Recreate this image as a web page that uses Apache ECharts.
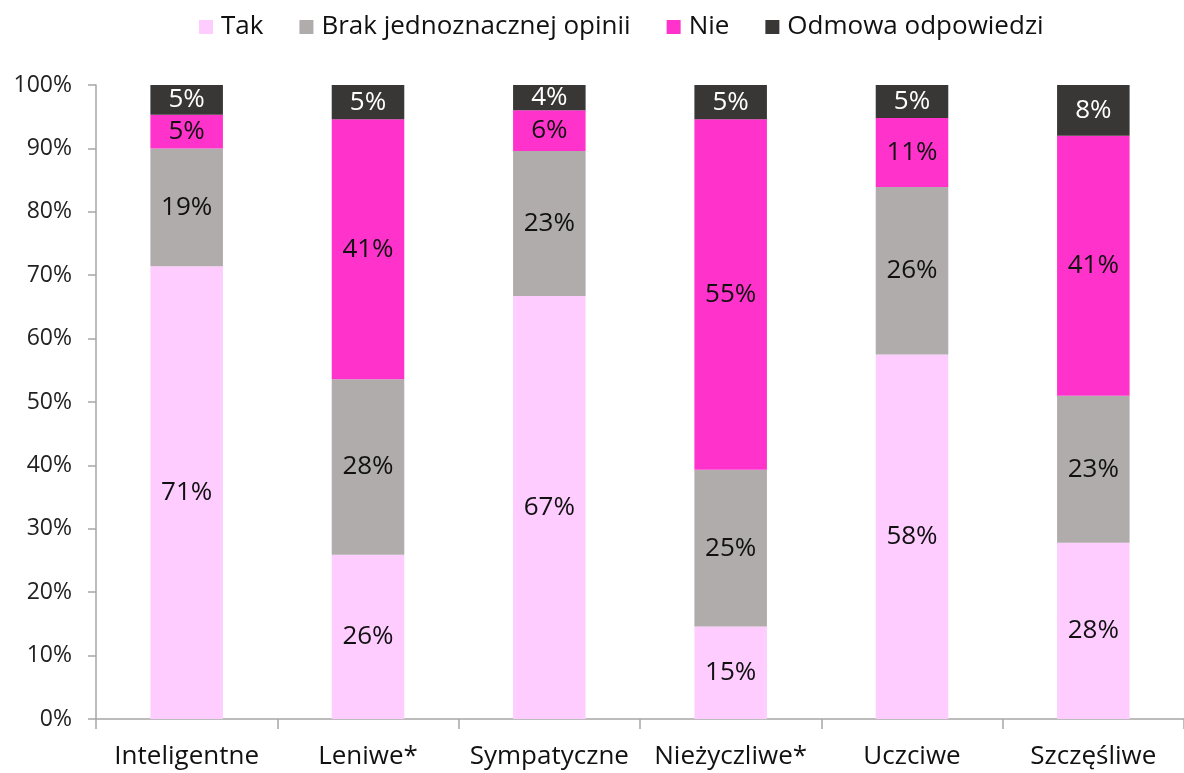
<!DOCTYPE html>
<html>
<head>
<meta charset="utf-8">
<script src="https://cdn.jsdelivr.net/npm/echarts@6/dist/echarts.min.js"></script>
<style>
  html, body { margin: 0; padding: 0; background: #fff; }
  #chart { width: 1184px; height: 773px; }
</style>
</head>
<body>
<div id="chart"></div>
<script>
// kategorie i odpowiedzi (w %)
var categories = ['Inteligentne', 'Leniwe*', 'Sympatyczne', 'Nieżyczliwe*', 'Uczciwe', 'Szczęśliwe'];
var tak     = [71.4, 25.9, 66.7, 14.6, 57.5, 27.8];
var brak    = [18.6, 27.7, 22.9, 24.7, 26.4, 23.2];
var nie     = [5.3, 41.0, 6.4, 55.3, 10.9, 41.0];
var odmowa  = [4.7, 5.4, 4.0, 5.4, 5.2, 8.0];
var yTicks  = [0, 10, 20, 30, 40, 50, 60, 70, 80, 90, 100];

var font = '"Open Sans", sans-serif';

function makeSeries(name, data, color, labelColor) {
  return {
    name: name,
    type: 'bar',
    stack: 'total',
    barWidth: '40%',
    data: data,
    itemStyle: { color: color },
    label: {
      show: true,
      position: 'inside',
      color: labelColor,
      fontFamily: font,
      fontSize: 26,
      formatter: function (p) { return Math.round(p.value) + '%'; }
    }
  };
}

var chart = echarts.init(document.getElementById('chart'));
var option = {
  animation: false,
  backgroundColor: '#fff',
  legend: {
    top: 9,
    left: 194,
    itemWidth: 14,
    itemHeight: 14,
    itemGap: 36,
    icon: 'rect',
    textStyle: { fontFamily: font, fontSize: 26, color: '#111', padding: [0, 0, 0, 3] },
    data: ['Tak', 'Brak jednoznacznej opinii', 'Nie', 'Odmowa odpowiedzi']
  },
  grid: { left: 96, right: -8, top: 85, bottom: 54 },
  xAxis: {
    type: 'category',
    data: categories,
    axisLine: { lineStyle: { color: '#a6a6a6', width: 1.5 } },
    axisTick: { show: true, interval: 0, length: 10, lineStyle: { color: '#a6a6a6', width: 1.5 } },
    axisLabel: { interval: 0, fontFamily: font, fontSize: 26, color: '#111', margin: 25 }
  },
  yAxis: {
    type: 'value',
    min: 0,
    max: 100,
    interval: 10,
    splitLine: { show: false },
    axisLine: { show: true, lineStyle: { color: '#a6a6a6', width: 1.5 } },
    axisTick: { show: true, length: 8, lineStyle: { color: '#a6a6a6', width: 1.5 } },
    axisLabel: {
      fontFamily: font, fontSize: 23, color: '#222', margin: 24,
      formatter: function (v) { return yTicks.indexOf(v) >= 0 ? v + '%' : ''; }
    }
  },
  series: [
    makeSeries('Tak', tak, '#ffccff', '#111'),
    makeSeries('Brak jednoznacznej opinii', brak, '#b0acab', '#111'),
    makeSeries('Nie', nie, '#ff33cc', '#111'),
    makeSeries('Odmowa odpowiedzi', odmowa, '#393636', '#fff')
  ]
};
chart.setOption(option);
</script>
</body>
</html>
